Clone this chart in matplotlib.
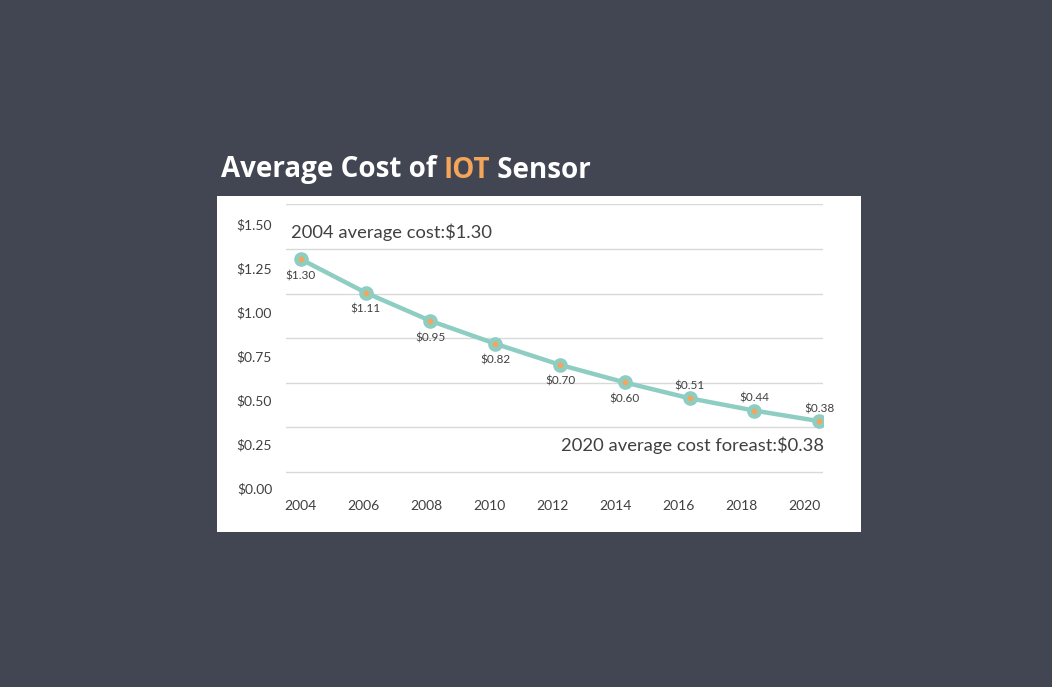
import matplotlib.pyplot as plt
from matplotlib.patches import Rectangle

years = [2004, 2006, 2008, 2010, 2012, 2014, 2016, 2018, 2020]
cost = [1.30, 1.11, 0.95, 0.82, 0.70, 0.60, 0.51, 0.44, 0.38]
labels = ['$1.30', '$1.11', '$0.95', '$0.82', '$0.70', '$0.60', '$0.51', '$0.44', '$0.38']
label_above = [False, False, False, False, False, False, True, True, True]
y_ticks = [0.0, 0.25, 0.5, 0.75, 1.0, 1.25, 1.5]

bg = '#414652'
teal = '#8ecdc2'
orange = '#f5a55a'
txt = '#404040'

plt.rcParams['font.family'] = ['Lato', 'DejaVu Sans']

fig = plt.figure(figsize=(10.52, 6.87), dpi=100, facecolor=bg)

# white card behind the chart
fig.patches.append(Rectangle((217/1052, 1 - 532/687), (861-217)/1052, (532-196)/687,
                             transform=fig.transFigure, facecolor='white',
                             edgecolor='none', zorder=-5))

ax = fig.add_axes([286/1052, 1 - 488/687, (823-286)/1052, (488-204)/687])
ax.set_facecolor('none')
ax.set_xlim(2003.54, 2020.12)
ax.set_ylim(0, 1.614)

# grid lines sit a bit off the tick values in the original
for k in range(7):
    ax.axhline(0.091 + 0.2535*k, color='#d9d9d9', lw=1, zorder=1)

ax.plot(years, cost, color=teal, lw=3.2, zorder=3, solid_capstyle='round')
ax.plot(years, cost, 'o', ms=9.5, color=teal, zorder=4)
ax.plot(years, cost, 'o', ms=3, color=orange, zorder=5)

for x, y, s, up in zip(years, cost, labels, label_above):
    off = 9 if up else -12
    ax.annotate(s, (x, y), xytext=(0, off), textcoords='offset points',
                ha='center', va='center', fontsize=8.5, color=txt, zorder=6)

ax.set_yticks(y_ticks)
ax.set_yticklabels(['$%.2f' % v for v in y_ticks])
# the year labels in the original are squeezed slightly left of the points
ax.set_xticks([2004 + (y - 2004) * 0.971 for y in years])
ax.set_xticklabels([str(y) for y in years])
ax.tick_params(length=0, labelsize=10, labelcolor=txt)
ax.tick_params(axis='y', pad=10)
ax.tick_params(axis='x', pad=9)
for sp in ax.spines.values():
    sp.set_visible(False)

fig.text(291/1052, 1 - 232/687, '2004 average cost:$1.30',
         ha='left', va='center', fontsize=13.2, color=txt)
fig.text(824/1052, 1 - 445/687, '2020 average cost foreast:$0.38',
         ha='right', va='center', fontsize=13.2, color=txt)

tfont = dict(fontsize=20, fontweight='bold', family=['Open Sans', 'DejaVu Sans'])
t1 = fig.text(221/1052, 1 - 170/687, 'Average Cost of ', color='white',
              ha='left', va='center', **tfont)
t2 = fig.text(0, 0, 'IOT', color=orange, ha='left', va='bottom', **tfont)
t3 = fig.text(0, 0, ' Sensor', color='white', ha='left', va='bottom', **tfont)
fig.canvas.draw()
r = fig.canvas.get_renderer()
b1 = t1.get_window_extent(r)
t2.set_position(fig.transFigure.inverted().transform((b1.x1, b1.y0)))
b2 = t2.get_window_extent(r)
t3.set_position(fig.transFigure.inverted().transform((b2.x1, b2.y0)))

fig.savefig('out.png', dpi=100, facecolor=bg)
